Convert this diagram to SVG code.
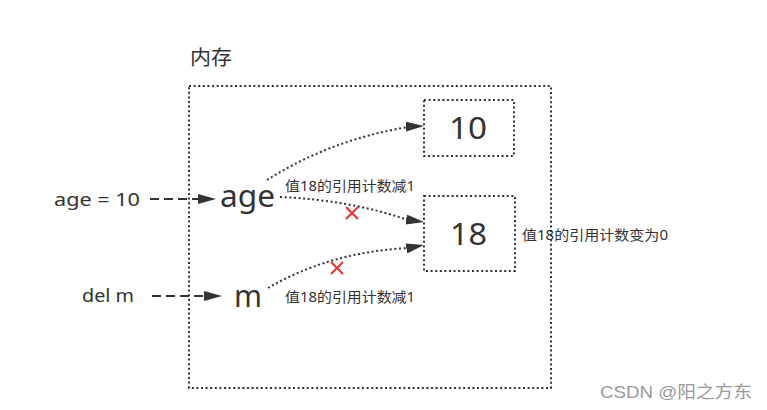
<svg xmlns="http://www.w3.org/2000/svg" width="767" height="410" viewBox="0 0 767 410">
<style>
.t{font-family:"Noto Sans","Noto Sans CJK SC",sans-serif;fill:#333}
.dot{fill:none;stroke:#333;stroke-width:2;stroke-dasharray:2 2.6}
.dash{fill:none;stroke:#333;stroke-width:2;stroke-dasharray:9 5}
.x{stroke:#e8393c;stroke-width:2.2;fill:none}
</style>
<defs>
<marker id="ah" markerWidth="18" markerHeight="10" refX="18" refY="5" orient="auto" markerUnits="userSpaceOnUse">
<path d="M0,0 L18,5 L0,10 z" fill="#333"/>
</marker>
</defs>
<rect width="767" height="410" fill="#fff"/>
<g id="memory">
<text class="t" x="190" y="65" font-size="20" textLength="42" lengthAdjust="spacingAndGlyphs">内存</text>
<rect class="dot" x="189" y="86" width="362" height="302"/>
</g>
<g id="box10">
<rect class="dot" x="424" y="100" width="90" height="56"/>
<text class="t" x="449" y="139" font-size="31" textLength="38" lengthAdjust="spacingAndGlyphs">10</text>
</g>
<g id="box18">
<rect class="dot" x="424" y="196" width="91" height="75"/>
<text class="t" x="450" y="245" font-size="31" textLength="37" lengthAdjust="spacingAndGlyphs">18</text>
</g>
<g id="stmt-age">
<text class="t" x="54" y="206" font-size="17.5" textLength="86" lengthAdjust="spacingAndGlyphs">age = 10</text>
</g>
<g id="var-age">
<text class="t" x="220" y="207" font-size="30" textLength="55" lengthAdjust="spacingAndGlyphs">age</text>
</g>
<g id="stmt-del">
<text class="t" x="82" y="302" font-size="17.5" textLength="52" lengthAdjust="spacingAndGlyphs">del m</text>
</g>
<g id="var-m">
<text class="t" x="234" y="307" font-size="30" textLength="28" lengthAdjust="spacingAndGlyphs">m</text>
</g>
<g id="labels">
<text class="t" x="285" y="191" font-size="14" textLength="130" lengthAdjust="spacingAndGlyphs">值18的引用计数减1</text>
<text class="t" x="285" y="302" font-size="14" textLength="130" lengthAdjust="spacingAndGlyphs">值18的引用计数减1</text>
<text class="t" x="522" y="240" font-size="14" textLength="146" lengthAdjust="spacingAndGlyphs">值18的引用计数变为0</text>
</g>
<g id="connectors">
<path class="dash" d="M150,199 L198,199"/>
<path d="M198,199 L216,199" stroke="none" marker-end="url(#ah)"/>
<path class="dash" d="M152,296 L205,296"/>
<path d="M204,296 L222,296" stroke="none" marker-end="url(#ah)"/>
<path class="dot" d="M267,180 Q330,140 408,127"/>
<path d="M406,126.6 L424,126" stroke="none" marker-end="url(#ah)"/>
<path class="dot" d="M280,197 Q350,200 408,220"/>
<path d="M406,219.5 L424,222" stroke="none" marker-end="url(#ah)"/>
<path class="dot" d="M268,288 Q330,252 408,248"/>
<path d="M406,248.5 L424,245" stroke="none" marker-end="url(#ah)"/>
<path class="x" d="M346,207 L358,219 M358,207 L346,219"/>
<path class="x" d="M331,262 L343,274 M343,262 L331,274"/>
</g>
<g id="watermark">
<text x="600" y="398" font-size="17" textLength="152" lengthAdjust="spacingAndGlyphs" font-family="'Liberation Sans','Noto Sans CJK SC',sans-serif" fill="#999">CSDN @阳之方东</text>
</g>
</svg>
